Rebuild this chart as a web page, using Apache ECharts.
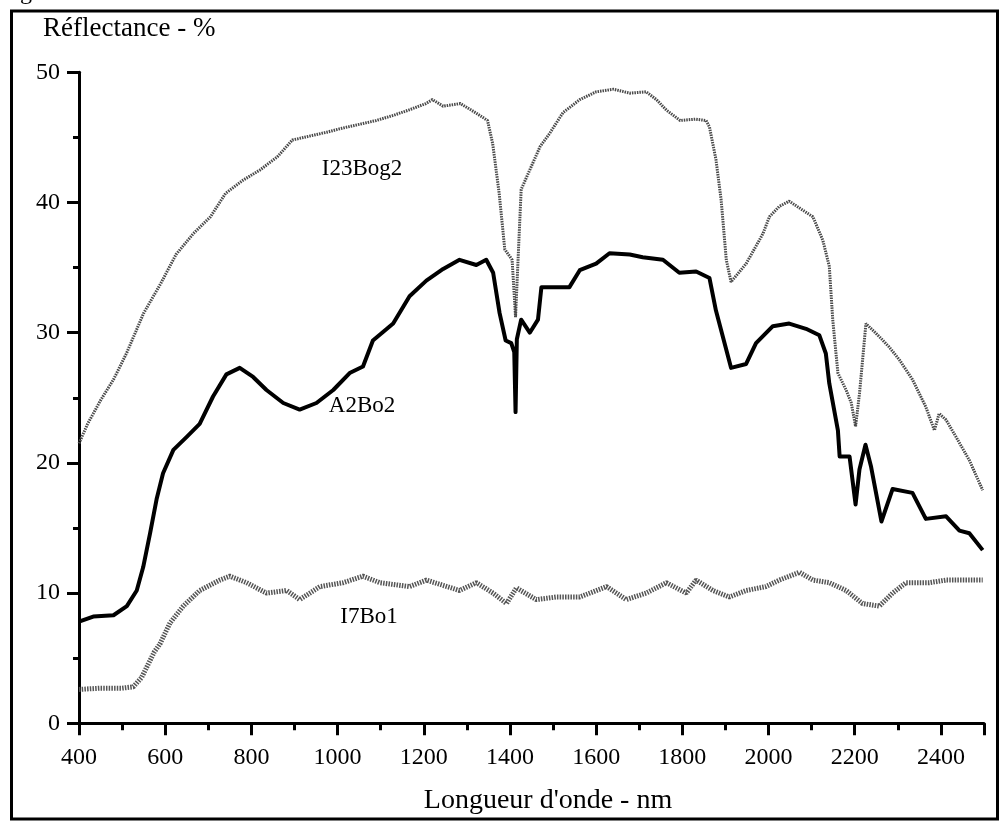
<!DOCTYPE html>
<html><head><meta charset="utf-8">
<script src="https://cdn.jsdelivr.net/npm/echarts@6/dist/echarts.min.js"></script>
<style>html,body{margin:0;padding:0;background:#fff}#c{width:1002px;height:822px}</style>
</head><body><div id="c"></div>
<script>
const xTicks = [400,600,800,1000,1200,1400,1600,1800,2000,2200,2400];
const yTicks = [0,10,20,30,40,50];

const wlI23 = [400,420,450,480,510,550,590,625,665,705,740,780,820,860,895,935,975,1010,1050,1090,1130,1165,1205,1220,1245,1285,1320,1348,1360,1375,1388,1405,1413,1420,1426,1446,1470,1492,1523,1562,1600,1640,1678,1716,1740,1763,1795,1830,1855,1863,1878,1890,1902,1913,1948,1987,2002,2025,2048,2080,2103,2126,2141,2149,2161,2180,2192,2202,2211,2226,2257,2280,2304,2334,2365,2385,2396,2412,2435,2466,2497];
const valI23 = [21.5,23.0,24.8,26.4,28.4,31.5,33.8,36.0,37.6,38.9,40.7,41.7,42.5,43.5,44.8,45.1,45.4,45.7,46.0,46.3,46.7,47.1,47.6,47.9,47.4,47.6,46.9,46.3,44.5,40.7,36.4,35.6,31.2,36.5,41.0,42.5,44.3,45.3,46.9,47.9,48.5,48.7,48.4,48.5,47.9,47.1,46.3,46.4,46.3,45.8,43.3,40.2,35.6,33.9,35.3,37.6,38.9,39.7,40.1,39.4,38.9,37.1,35.1,31.0,26.9,25.6,24.6,22.8,25.3,30.7,29.7,28.9,27.9,26.4,24.3,22.5,23.8,23.3,22.0,20.2,17.9];

const wlA2 = [400,433,480,511,534,549,565,580,595,619,650,680,711,742,773,804,835,874,912,951,990,1028,1059,1082,1129,1167,1206,1245,1283,1322,1345,1361,1376,1390,1403,1410,1413,1416,1426,1446,1465,1473,1508,1538,1562,1600,1631,1678,1708,1755,1793,1832,1863,1878,1913,1948,1971,2010,2048,2087,2118,2133,2141,2161,2165,2188,2202,2211,2225,2238,2262,2288,2334,2365,2412,2443,2466,2497];
const valA2 = [7.8,8.2,8.3,9.0,10.2,12.0,14.6,17.2,19.2,21.0,22.0,23.0,25.1,26.8,27.3,26.6,25.6,24.6,24.1,24.6,25.6,26.9,27.4,29.4,30.7,32.8,34.0,34.9,35.6,35.2,35.6,34.6,31.5,29.4,29.2,28.5,23.9,29.5,31.0,30.0,31.0,33.5,33.5,33.5,34.8,35.3,36.1,36.0,35.8,35.6,34.6,34.7,34.2,31.7,27.3,27.6,29.2,30.5,30.7,30.3,29.8,28.4,26.1,22.5,20.5,20.5,16.8,19.5,21.4,19.7,15.5,18.0,17.7,15.7,15.9,14.8,14.6,13.3];

const wlI7 = [400,450,500,526,545,560,575,588,611,642,680,727,750,789,835,882,912,959,1013,1059,1098,1167,1206,1283,1322,1361,1392,1415,1461,1508,1562,1624,1670,1716,1763,1809,1832,1871,1909,1948,1994,2025,2072,2103,2141,2180,2218,2257,2288,2319,2373,2412,2450,2497];
const valI7 = [2.6,2.7,2.7,2.8,3.5,4.5,5.5,6.1,7.7,9.0,10.2,11.0,11.3,10.8,10.0,10.2,9.5,10.5,10.8,11.3,10.8,10.5,11.0,10.2,10.8,10.0,9.2,10.4,9.5,9.7,9.7,10.5,9.5,10.0,10.8,10.0,11.0,10.2,9.7,10.2,10.5,11.0,11.6,11.0,10.8,10.2,9.2,9.0,10.0,10.8,10.8,11.0,11.0,11.0];

const seriesNames = ['I23Bog2','A2Bo2','I7Bo1'];
const yTitle = 'Réflectance - %';
const xTitle = "Longueur d'onde - nm";

const zip = (a,b) => a.map((x,i)=>[x,b[i]]);
const FONT = "'Liberation Serif', 'DejaVu Serif', serif";

const chart = echarts.init(document.getElementById('c'), null, {renderer:'canvas'});
chart.setOption({
  animation:false,
  backgroundColor:'#fff',
  grid:{left:79, right:18, top:72.3, bottom:98.7, containLabel:false},
  xAxis:{
    type:'value', min:400, max:2500, interval:200,
    axisLine:{show:true, onZero:false, lineStyle:{color:'#000', width:3}},
    axisTick:{show:true, length:12, lineStyle:{color:'#000', width:3}},
    minorTick:{show:true, splitNumber:2, length:7, lineStyle:{color:'#000', width:3}},
    splitLine:{show:false},
    axisLabel:{color:'#000', fontFamily:FONT, fontSize:24, margin:22,
      formatter:v => xTicks.includes(v) ? String(v) : ''}
  },
  yAxis:{
    type:'value', min:0, max:50, interval:10,
    axisLine:{show:true, onZero:false, lineStyle:{color:'#000', width:3}},
    axisTick:{show:true, length:12, lineStyle:{color:'#000', width:3}},
    minorTick:{show:true, splitNumber:2, length:6, lineStyle:{color:'#000', width:3}},
    splitLine:{show:false},
    axisLabel:{color:'#000', fontFamily:FONT, fontSize:24, margin:19,
      formatter:v => yTicks.includes(v) ? String(v) : ''}
  },
  series:[
    {name:seriesNames[0], type:'line', showSymbol:false, data:zip(wlI23,valI23),
     lineStyle:{color:'#4a4a4a', width:3, type:[1.5,1]}},
    {name:seriesNames[1], type:'line', showSymbol:false, data:zip(wlA2,valA2),
     lineStyle:{color:'#000', width:4, join:'round'}},
    {name:seriesNames[2], type:'line', showSymbol:false, data:zip(wlI7,valI7),
     lineStyle:{color:'#555', width:5, type:[1.5,1.2]}}
  ],
  graphic:[
    {type:'rect', shape:{x:11.5, y:11, width:986, height:808}, style:{fill:null, stroke:'#000', lineWidth:3}, silent:true},
    {type:'text', x:0, y:5, style:{text:'Fig', font:"24px 'Liberation Serif'", fill:'#000', verticalAlign:'bottom'}},
    {type:'text', x:43, y:29, style:{text:yTitle, font:"27px 'Liberation Serif'", fill:'#000', verticalAlign:'middle'}},
    {type:'text', x:548, y:801, style:{text:xTitle, font:"28px 'Liberation Serif'", fill:'#000', align:'center', verticalAlign:'middle'}},
    {type:'text', x:362, y:169, style:{text:seriesNames[0], font:"23px 'Liberation Serif'", fill:'#000', align:'center', verticalAlign:'middle'}},
    {type:'text', x:362, y:406, style:{text:seriesNames[1], font:"23px 'Liberation Serif'", fill:'#000', align:'center', verticalAlign:'middle'}},
    {type:'text', x:369, y:617, style:{text:seriesNames[2], font:"23px 'Liberation Serif'", fill:'#000', align:'center', verticalAlign:'middle'}}
  ]
});
</script></body></html>
